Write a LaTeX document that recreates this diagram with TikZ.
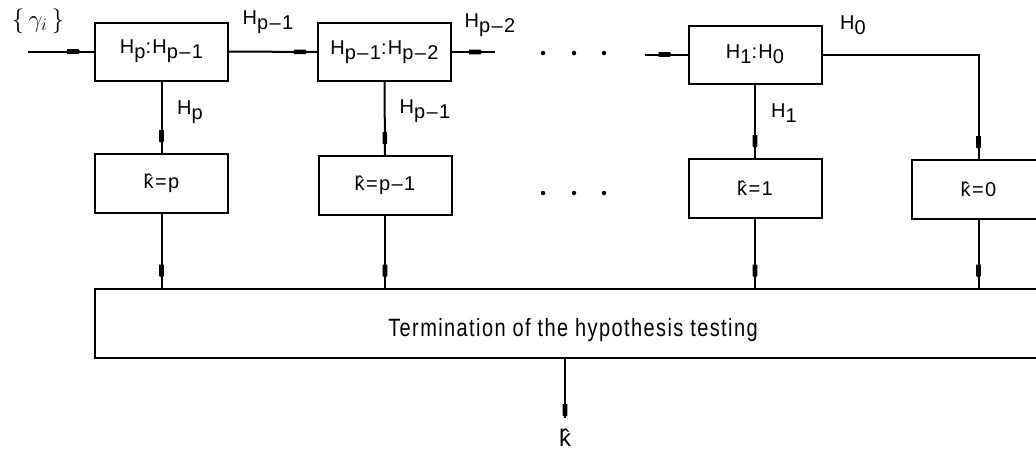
\documentclass[tikz,border=0pt]{standalone}
\usepackage{fontspec}
\setmainfont[LetterSpace=7]{Liberation Sans}
\usetikzlibrary{arrows.meta,decorations.markings}
\newcommand\sub[1]{\raisebox{-0.45ex}{#1}}
\begin{document}
\begin{tikzpicture}[x=1pt,y=-1pt,
  box/.style={draw,line width=2pt,minimum width=133pt,minimum height=58pt,inner sep=0pt,font=\fontsize{20}{24}\selectfont},
  lbl/.style={font=\fontsize{20}{24}\selectfont,inner sep=0pt},
  wire/.style={line width=2pt},
  arr/.style={wire,postaction={decorate},decoration={markings,mark=at position #1 with {\fill (-13pt,-2.3pt) -- (-1.5pt,-2.3pt) -- (0pt,0pt) -- (-1.5pt,2.3pt) -- (-13pt,2.3pt) -- cycle;}}},
  arr/.default=-10pt,
  dot/.style={circle,fill,inner sep=0pt,minimum size=4.5pt}]
\clip (0,0) rectangle (1036,456);
% top row
\node[box] (b1) at (161.5,51.5) {H\sub{p}:H\sub{p--1}};
\node[box] (b2) at (384.5,52) {H\sub{p--1}:H\sub{p--2}};
\node[box] (b3) at (755,54.5) {H\sub{1}:H\sub{0}};
% decision row
\node[box,minimum height=59pt] (kp) at (161.5,183.5) {\^k=p};
\node[box,minimum height=59pt] (kq) at (385,185.5) {\^k=p--1};
\node[box,minimum height=59pt] (k1) at (755,188.5) {\^k=1};
\node[box,minimum height=59pt] (k0) at (978.5,189.5) {\^k=0};
% termination box
\node[box,minimum width=955pt,minimum height=69pt] (T) at (572.5,323) {};
\node[lbl] (Tt) at (573,330) {\scalebox{1}[1.25]{Termination of the hypothesis testing}};
% free ends
\coordinate (in) at (28,51.5);
\coordinate (e2) at (495,52);
\coordinate (s3) at (645,54.5);
\coordinate (out) at (565,418);
% connectors
\draw[arr=-14pt] (in) -- (b1.west);
\draw[arr=-10pt] (b1.east) -- (b2.west);
\draw[arr=-13pt] (b2.east) -- (e2);
\draw[arr=-16pt] (s3) -- (b3.west);
\draw[arr] (b3.east) -| (k0.north);
\draw[arr] (b1.south) -- (kp.north);
\draw[arr] (b2.south) -- (kq.north);
\draw[arr] (b3.south) -- (k1.north);
\draw[arr] (kp.south) -- (kp.south |- T.north);
\draw[arr] (kq.south) -- (kq.south |- T.north);
\draw[arr] (k1.south) -- (k1.south |- T.north);
\draw[arr] (k0.south) -- (k0.south |- T.north);
\draw[arr=-1pt] (out |- T.south) -- (out);
% labels
\node[lbl,font=\fontsize{24}{28}\selectfont] (g) at (38,21) {$\{\,\gamma_i\,\}$};
\node[lbl] (l1) at (268,22) {H\sub{p--1}};
\node[lbl] (l2) at (490,25) {H\sub{p--2}};
\node[lbl] (l3) at (853,25) {H\sub{0}};
\node[lbl] (l4) at (190,112) {H\sub{p}};
\node[lbl] (l5) at (425,111) {H\sub{p--1}};
\node[lbl] (l6) at (784,113) {H\sub{1}};
\node[lbl,font=\fontsize{24}{28}\selectfont] (kh) at (565,438) {\^k};
% ellipses
\node[dot] (d1) at (543,53) {};
\node[dot] (d2) at (574,53) {};
\node[dot] (d3) at (604,53) {};
\node[dot] (d4) at (543,193) {};
\node[dot] (d5) at (574,193) {};
\node[dot] (d6) at (604,193) {};
\end{tikzpicture}
\end{document}
